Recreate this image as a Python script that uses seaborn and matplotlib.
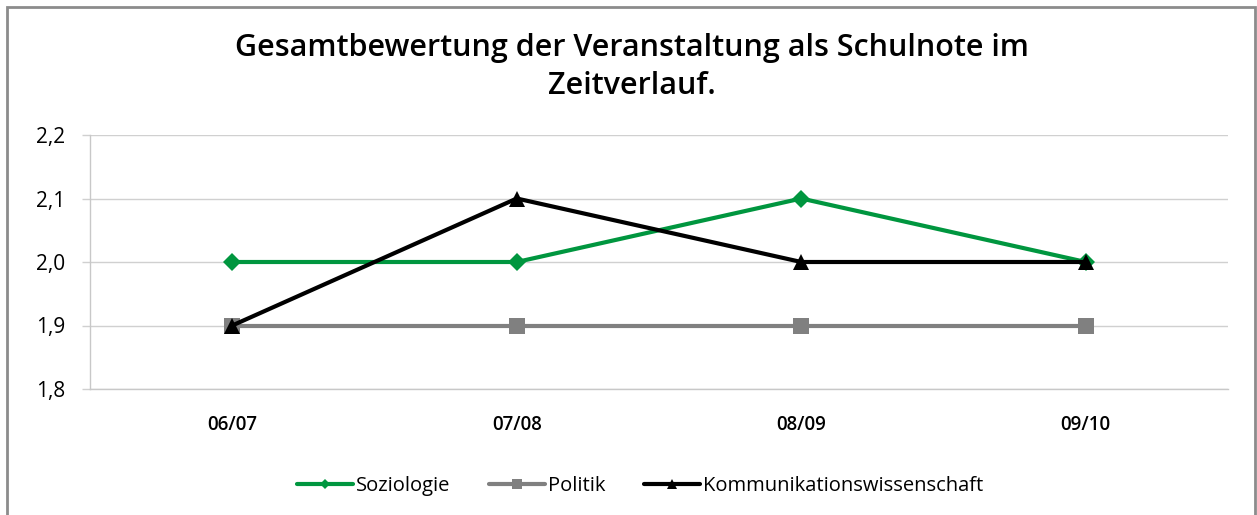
import matplotlib
matplotlib.use("Agg")
import matplotlib.pyplot as plt
from matplotlib.lines import Line2D
from matplotlib.patches import Rectangle
from matplotlib.ticker import FixedLocator, FuncFormatter
import seaborn as sns
import pandas as pd

# Semester categories and average school grades per subject
semesters = ["06/07", "07/08", "08/09", "09/10"]
soziologie = [2.0, 2.0, 2.1, 2.0]
politik = [1.9, 1.9, 1.9, 1.9]
kommunikation = [1.9, 2.1, 2.0, 2.0]

series_names = ["Soziologie", "Politik", "Kommunikationswissenschaft"]
series_values = [soziologie, politik, kommunikation]
colors = ["#00963F", "#808080", "#000000"]
markers = ["D", "s", "^"]
marker_sizes = [9, 12, 12]

title = "Gesamtbewertung der Veranstaltung als Schulnote im\nZeitverlauf."

sns.set_theme(style="white")
plt.rcParams["font.family"] = ["Open Sans", "DejaVu Sans"]
plt.rcParams["text.color"] = "black"

fig = plt.figure(figsize=(12.57, 5.15), dpi=100)
ax = fig.add_axes([90 / 1257, 1 - 389 / 515, (1228 - 90) / 1257, (389 - 135) / 515])

for name, vals, col, mk, ms in zip(series_names, series_values, colors, markers, marker_sizes):
    df = pd.DataFrame({"Semester": semesters, "Note": vals})
    sns.lineplot(data=df, x="Semester", y="Note", ax=ax, color=col, linewidth=3,
                 marker=mk, markersize=ms, markeredgewidth=0, sort=False,
                 label=name, legend=False, clip_on=False, zorder=3)

ax.set_xlim(-0.5, len(semesters) - 0.5)
ax.set_ylim(1.8, 2.2)
ax.yaxis.set_major_locator(FixedLocator([1.8, 1.9, 2.0, 2.1, 2.2]))
ax.yaxis.set_major_formatter(FuncFormatter(lambda v, p: f"{v:.1f}".replace(".", ",")))
ax.set_xlabel("")
ax.set_ylabel("")

# horizontal gridlines, Excel-like light grey
ax.grid(axis="y", color="#D0D0D0", linewidth=1)
ax.grid(axis="x", visible=False)
for side in ["top", "right"]:
    ax.spines[side].set_visible(False)
for side in ["left", "bottom"]:
    ax.spines[side].set_color("#C8C8C8")
    ax.spines[side].set_linewidth(1)

# x ticks: labels at category centres, tick marks on category boundaries
ax.set_xticks(range(len(semesters)))
ax.set_xticklabels(semesters, fontsize=13.5, fontweight="semibold", color="black")
ax.tick_params(axis="x", which="major", length=0, pad=19)
ax.set_xticks([i - 0.5 for i in range(len(semesters) + 1)], minor=True)
ax.tick_params(axis="x", which="minor", length=5, color="#C8C8C8", width=1)
ax.tick_params(axis="y", length=6, color="#D0D0D0", width=1, labelsize=15, pad=12,
               labelcolor="black")
ax.tick_params(axis="y", left=True)

fig.text(632 / 1257, 1 - 67 / 515, title, ha="center", va="center",
         fontsize=22, fontweight="semibold", linespacing=1.32, color="black")

handles = [Line2D([], [], color=c, linewidth=3, marker=m, markersize=s * 0.6,
                  markeredgewidth=0)
           for c, m, s in zip(colors, markers, marker_sizes)]
fig.legend(handles, series_names, loc="center", bbox_to_anchor=(640 / 1257, 1 - 486 / 515),
           ncol=3, frameon=False, fontsize=14.5, handlelength=2.8, handletextpad=0.15,
           columnspacing=1.9, labelcolor="black")

# chart area frame
fig.patches.append(Rectangle((7 / 1257, -0.02), (1255 - 7) / 1257, 1.02 - 7 / 515,
                             transform=fig.transFigure, fill=False,
                             edgecolor="#8C8C8C", linewidth=2))

fig.savefig("out.png", dpi=100, facecolor="white")
